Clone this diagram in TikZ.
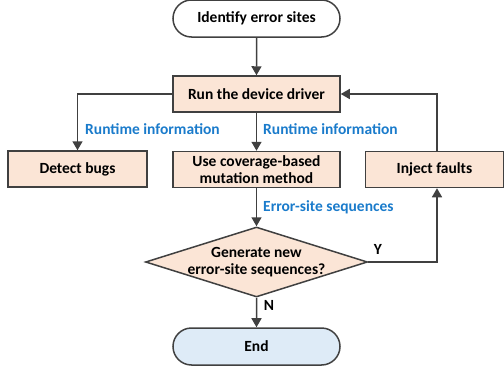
\documentclass[tikz,border=0pt]{standalone}
\usepackage{fontspec}
\setmainfont{Carlito}
\usetikzlibrary{shapes.geometric,shapes.misc,arrows.meta}
\definecolor{peach}{HTML}{FBE5D6}
\definecolor{paleblue}{HTML}{DEEBF7}
\definecolor{linegray}{HTML}{404040}
\definecolor{infoblue}{HTML}{1A7BCB}
\tikzset{
  txt/.style={font=\bfseries\fontsize{15.5}{17.5}\selectfont},
  base/.style={txt, draw=linegray, line width=1.5pt, align=center, inner sep=0pt},
  procbox/.style={base, rectangle, fill=peach, minimum width=167pt, minimum height=36pt},
  term/.style={base, rounded rectangle, minimum width=167pt, minimum height=37pt},
  decision/.style={base, diamond, fill=peach, minimum width=222pt, minimum height=70pt, aspect=3.17, inner sep=-12pt},
  conn/.style={draw=linegray, line width=1.5pt, -{Triangle[length=9pt,width=10pt]}},
  info/.style={txt, text=infoblue, anchor=west, inner sep=0pt},
  yn/.style={txt, inner sep=0pt}
}
\begin{document}
\begin{tikzpicture}[x=1pt,y=-1pt]
\useasboundingbox (0,0) rectangle (504,372);
\node[term] (start) at (256.5,18.5) {Identify error sites};
\node[procbox] (run) at (256.5,94) {Run the device driver};
\node[procbox, minimum width=139pt] (detect) at (77.5,169) {Detect bugs};
\node[procbox] (mut) at (256.5,169.5) {Use coverage-based\\mutation method};
\node[procbox, minimum width=138pt] (inject) at (434.5,169.5) {Inject faults};
\node[decision] (dec) at (256.5,262) {Generate new\\error-site sequences?};
\node[term, fill=paleblue] (end) at (256.5,346.5) {End};
\coordinate (lcorner) at (77.5,94);
\coordinate (rtop) at (437,94);
\coordinate (rbot) at (437,262);
\draw[conn] (start) -- (run);
\draw[conn] (run.west) -- (lcorner) -- (detect.north);
\draw[conn] (run) -- (mut);
\draw[conn] (mut) -- (dec);
\draw[conn] (dec) -- (end);
\draw[conn] (inject.north -| rtop) -- (rtop) -- (run.east);
\draw[conn] (dec.east) -- (rbot) -- (inject.south -| rbot);
\node[info] (ri1) at (85,129) {Runtime information};
\node[info] (ri2) at (263,129) {Runtime information};
\node[info] (es) at (263,207) {Error-site sequences};
\node[yn] (ylab) at (378,249) {Y};
\node[yn] (nlab) at (269,305) {N};
\end{tikzpicture}
\end{document}
